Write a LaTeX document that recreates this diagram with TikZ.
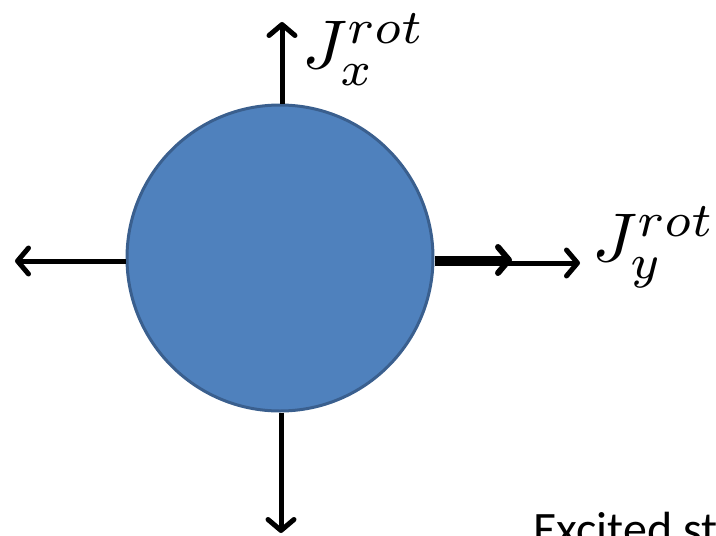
\documentclass[tikz,border=0pt]{standalone}
\usepackage{fontspec}
\newfontfamily\calib{Carlito}
\usetikzlibrary{arrows.meta}
\definecolor{ballfill}{HTML}{4F81BD}
\definecolor{balledge}{HTML}{3A5F8E}
\tikzset{
  axisarrow/.style={line width=5pt, -{Straight Barb[length=11pt,width=26pt,line width=5pt,round]}},
  thickarrow/.style={line width=7.5pt, -{Straight Barb[length=11pt,width=26pt,line width=6pt,round]}},
  lbl/.style={inner sep=0pt}
}
\begin{document}
\begin{tikzpicture}[x=1pt,y=-1pt]
\useasboundingbox (0,0) rectangle (716,536);
\clip (0,0) rectangle (716,536);
\node[circle, fill=ballfill, draw=balledge, line width=3pt, minimum size=306pt, inner sep=0pt] (ball) at (280,258) {};
\coordinate (top) at (282,22);
\coordinate (left) at (15,261);
\coordinate (bottom) at (281,533);
\coordinate (rightthin) at (580,263);
\coordinate (rightthick) at (512,260);
\draw[axisarrow] (ball.north -| top) -- (top);
\draw[axisarrow] (ball.west |- left) -- (left);
\draw[axisarrow] (ball.south -| bottom) -- (bottom);
\draw[axisarrow] (ball.east |- rightthin) -- (rightthin);
\draw[thickarrow] (ball.east |- rightthick) -- (rightthick);
\node[lbl, anchor=west] (jx) at (302,50) {\scalebox{6.9}{$J_x^{rot}$}};
\node[lbl, anchor=west] (jy) at (592,247) {\scalebox{6.9}{$J_y^{rot}$}};
\node[anchor=base west, inner sep=0pt, font=\calib\fontsize{48}{58}\selectfont] (exc) at (533,545) {Excited st};
\end{tikzpicture}
\end{document}
